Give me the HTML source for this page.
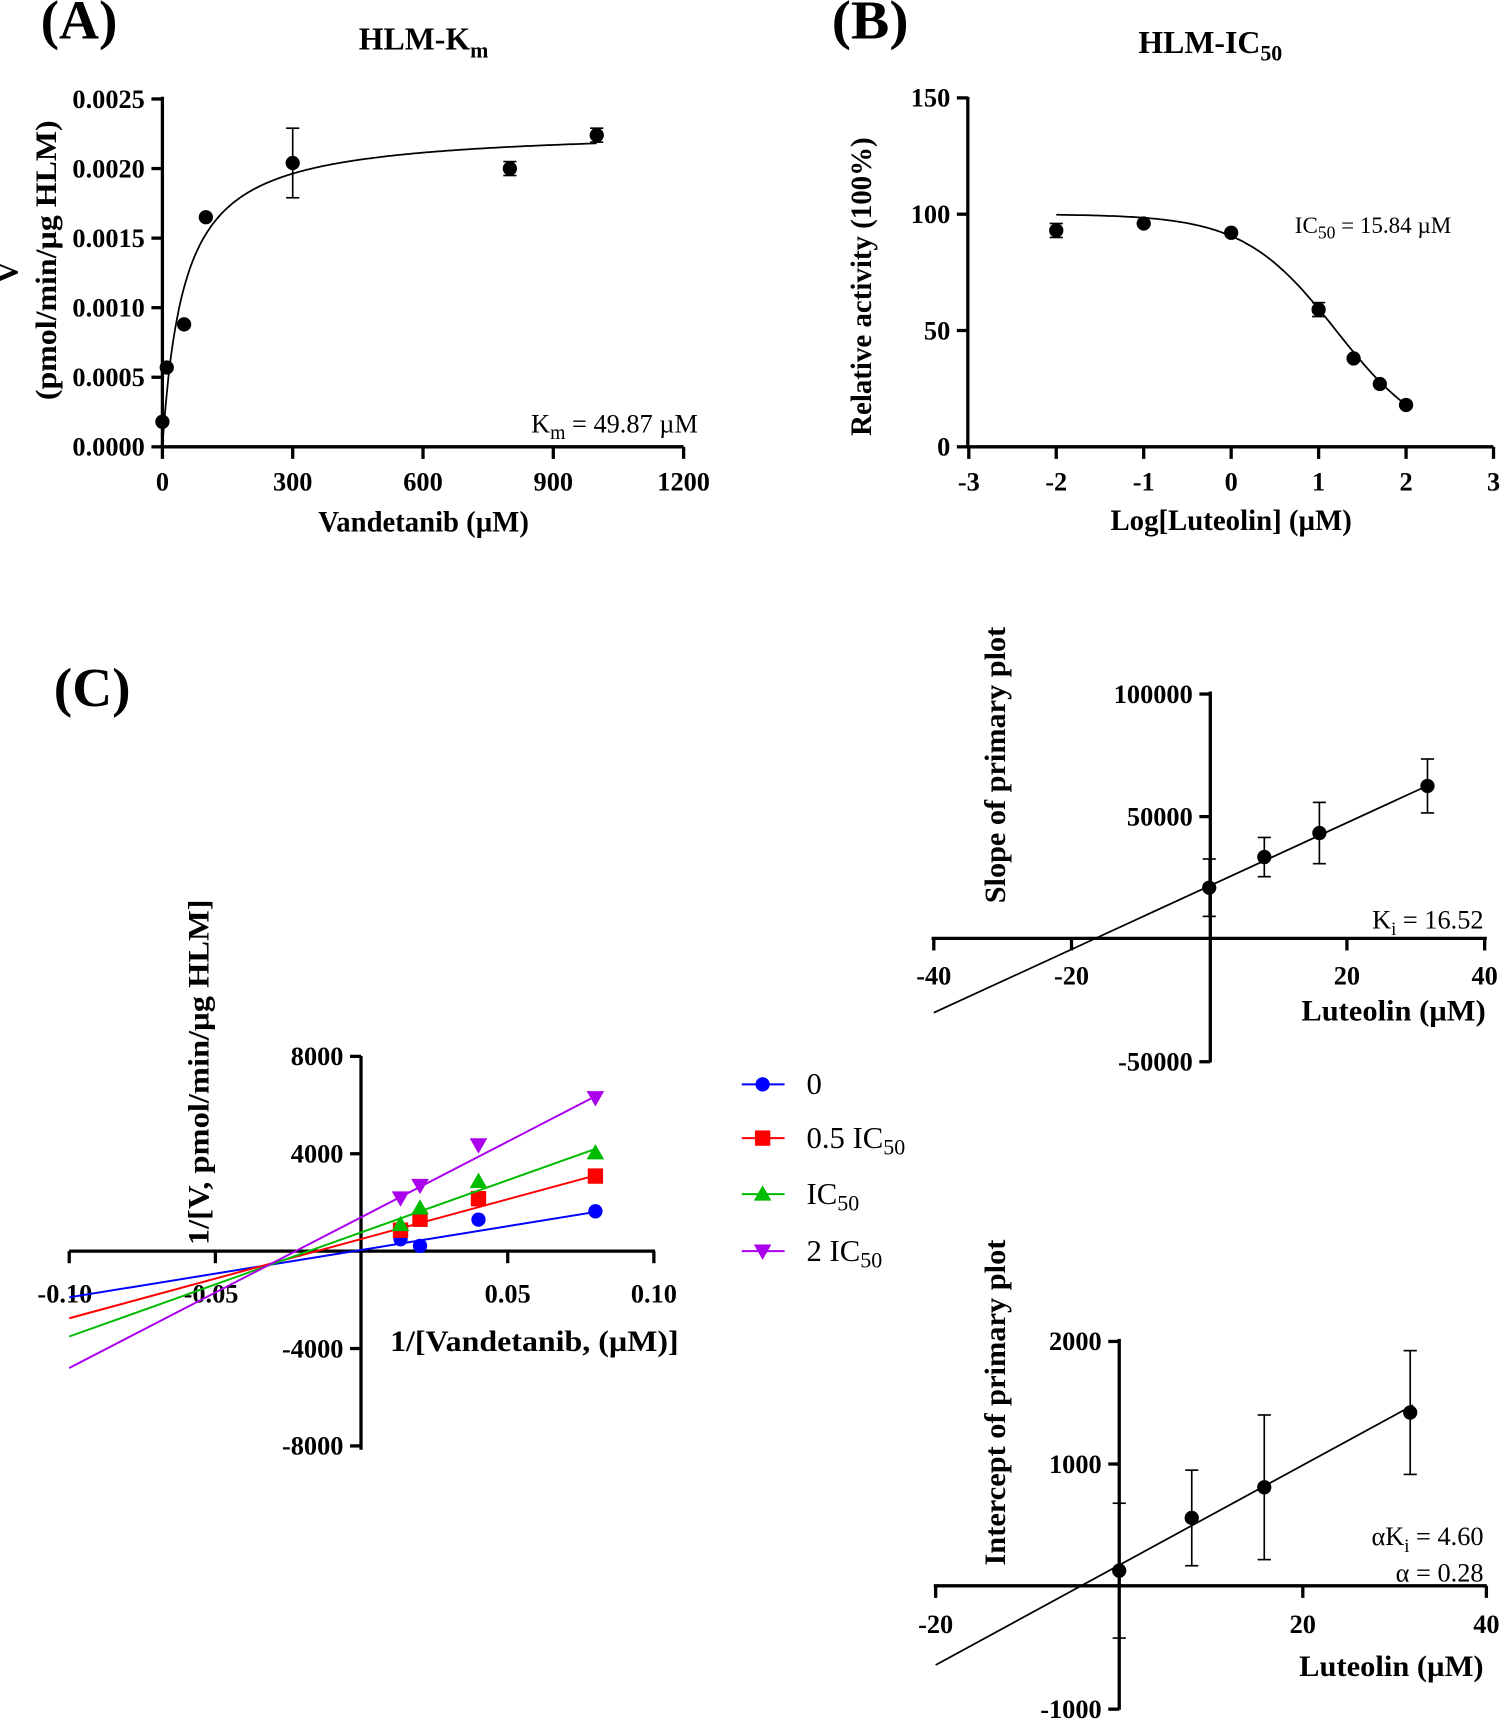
<!DOCTYPE html>
<html><head><meta charset="utf-8"><style>
html,body{margin:0;padding:0;background:#fff}
svg{display:block}
text{font-family:"Liberation Serif",serif;fill:#000}
.b{font-weight:bold}
</style></head><body>
<svg id="fig" width="1500" height="1721" viewBox="0 0 1367 1568" xmlns="http://www.w3.org/2000/svg">
<g id="g"></g>
</svg>
<script>
// Panel A data
const aX=[0,10,50,100,300,800,1000];
const aY=[0.00018,0.00057,0.00088,0.00165,0.00204,0.0020,0.00224];
const aErr=[0,0,0,0,0.00025,0.00005,0.00005];
const aVmax=0.00229, aKm=49.87;
const aXTicks=[0,300,600,900,1200];
const aYTicks=["0.0000","0.0005","0.0010","0.0015","0.0020","0.0025"];
// Panel B data
const bX=[-2,-1,0,1,1.4,1.7,2];
const bY=[93,96,92,59,38,27,18];
const bErr=[3,1,1,3,1,1,1];
const bLogIC50=1.2, bHill=0.82;
const bXTicks=[-3,-2,-1,0,1,2,3];
const bYTicks=[0,50,100,150];
// Panel C data
const cX=[1/75,0.02,0.04,0.08];
const cNames=["0","0.5 IC50","IC50","2 IC50"];
const cBlue=[491,218,1296,1637];
const cRed=[860,1310,2155,3083];
const cGreen=[1091,1773,2865,4037];
const cPurple=[2183,2700,4365,6302];
const cLineStart=[-1897,-2757,-3506,-4800];
const cLineEnd=[1610,3110,4200,6360];
const cXTicks=["-0.10","-0.05","0.05","0.10"];
const cYTicks=[8000,4000,-4000,-8000];
// Panel D (slope replot)
const dX=[0,8,16,31.7];
const dY=[21000,33500,43300,62500];
const dErr=[11700,8000,12500,11000];
const dLine=[[-40,-30000],[32,63000]];
const dXTicks=[-40,-20,20,40];
const dYTicks=[100000,50000,-50000];
// Panel E (intercept replot)
const eX=[0,7.9,15.8,31.7];
const eY=[130,560,810,1420];
const eErr=[550,390,590,505];
const eLine=[[-20,-640],[32,1480]];
const eXTicks=[-20,20,40];
const eYTicks=[2000,1000,-1000];

const NS="http://www.w3.org/2000/svg";
const G=document.getElementById('g');
const TS=24;
function mk(tag,attrs,parent){const e=document.createElementNS(NS,tag);for(const k in attrs)e.setAttribute(k,attrs[k]);(parent||G).appendChild(e);return e;}
function grp(name){const e=mk('g',{});


return e;}
function txt(p,x,y,s,size,cls,anchor,rot,len){const t=mk('text',{x:x,y:y,'font-size':size,'text-anchor':anchor||'middle'},p);if(cls)t.setAttribute('class',cls);if(rot)t.setAttribute('transform','rotate(-90 '+x+' '+y+')');if(len){t.setAttribute('textLength',len);t.setAttribute('lengthAdjust','spacingAndGlyphs');}t.innerHTML=s;return t;}
function line(p,x1,y1,x2,y2,col,w){return mk('line',{x1:x1,y1:y1,x2:x2,y2:y2,stroke:col||'#000','stroke-width':w||1.6},p);}
function errbar(p,x,y1,y2){line(p,x,y1,x,y2,'#000',1.5);line(p,x-6,y1,x+6,y1,'#000',1.5);line(p,x-6,y2,x+6,y2,'#000',1.5);}

// ---------- Panel A ----------
(function(){
const g=grp('panel-a-km-chart');
const sx=v=>148+v/1200*475, sy=v=>407-v/0.0025*317;
txt(g,72,35,'(A)',50,'b','middle',false,70);
txt(g,386,45,'HLM-K<tspan font-size="20" dy="7">m</tspan>',29,'b');
const ax=grp('panel-a-axes');g.appendChild(ax);
line(ax,148,88,148,407,'#000',3);line(ax,146,407,623,407,'#000',3);
aXTicks.forEach((t,i)=>{line(ax,sx(t),407,sx(t),418,'#000',3);txt(ax,sx(t),447,t,TS,'b');});
aYTicks.forEach(t=>{const y=sy(+t);line(ax,138,y,148,y,'#000',3);txt(ax,132,y+8,t,TS,'b','end');});
txt(g,386,484,'Vandetanib (µM)',27,'b','middle',false,192);
txt(g,16,248,'V',28,'b','middle',true);
txt(g,51,237,'(pmol/min/µg HLM)',27,'b','middle',true,255);
let d='';for(let v=0;v<=1000;v+=2){const y=aVmax*v/(aKm+v);d+=(v?'L':'M')+sx(v).toFixed(1)+' '+sy(y).toFixed(1);}
const c=mk('path',{d:d,fill:'none',stroke:'#000','stroke-width':1.6},g);


aX.forEach((x,i)=>{if(aErr[i])errbar(g,sx(x),sy(aY[i]+aErr[i]),sy(aY[i]-aErr[i]));
const p=mk('circle',{cx:sx(x),cy:sy(aY[i]),r:6.5,fill:'#000'},g);

});
txt(g,636,394,'K<tspan font-size="18" dy="6">m</tspan><tspan dy="-6"> = 49.87 µM</tspan>',24,'','end');
})();

// ---------- Panel B ----------
(function(){
const g=grp('panel-b-ic50-chart');
const sx=v=>1122+v*79.7, sy=v=>407-v/150*318;
txt(g,793,35,'(B)',50,'b','middle',false,70);
txt(g,1103,48,'HLM-IC<tspan font-size="20" dy="7">50</tspan>',29,'b');
const ax=grp('panel-b-axes');g.appendChild(ax);
line(ax,882,88,882,407,'#000',3);line(ax,880,407,1361,407,'#000',3);
bXTicks.forEach(t=>{line(ax,sx(t),407,sx(t),418,'#000',3);txt(ax,sx(t),447,t,TS,'b');});
bYTicks.forEach(t=>{const y=sy(t);line(ax,872,y,882,y,'#000',3);txt(ax,866,y+8,t,TS,'b','end');});
txt(g,1122,483,'Log[Luteolin] (µM)',27,'b','middle',false,220);
txt(g,794,261,'Relative activity (100%)',27,'b','middle',true,272);
let d='';for(let v=-2;v<=2.001;v+=0.02){const y=100/(1+Math.pow(10,bHill*(v-bLogIC50)));d+=(v>-2?'L':'M')+sx(v).toFixed(1)+' '+sy(y).toFixed(1);}
const c=mk('path',{d:d,fill:'none',stroke:'#000','stroke-width':1.6},g);


bX.forEach((x,i)=>{if(bErr[i]>1)errbar(g,sx(x),sy(bY[i]+bErr[i]),sy(bY[i]-bErr[i]));
const p=mk('circle',{cx:sx(x),cy:sy(bY[i]),r:6.5,fill:'#000'},g);

});
txt(g,1180,212,'IC<tspan font-size="16" dy="5">50</tspan><tspan dy="-5"> = 15.84 µM</tspan>',21,'','start');
})();

// ---------- Panel C ----------
(function(){
const g=grp('panel-c-lineweaver-burk-chart');
const sx=v=>329.5+v/0.05*133.2, sy=v=>1140-v/4000*88.75;
txt(g,84,643,'(C)',50,'b','middle',false,70);
const ax=grp('panel-c-axes');g.appendChild(ax);
line(ax,329,962,329,1321,'#000',3);line(ax,63,1140,597,1140,'#000',3);
[-0.1,-0.05,0.05,0.1].forEach((t,i)=>{line(ax,sx(t),1140,sx(t),1151,'#000',3);txt(ax,sx(t)+(i<2?-4:0),1187,cXTicks[i],TS,'b');});
cYTicks.forEach(t=>{const y=sy(t);line(ax,319,y,329,y,'#000',3);txt(ax,313,y+8,t,TS,'b','end');});
txt(g,487,1231,'1/[Vandetanib, (µM)]',27,'b','middle',false,263);
txt(g,190,977,'1/[V, pmol/min/µg HLM]',27,'b','middle',true,315);
const cols=['#0000ff','#ff0000','#00bb00','#aa00ee'];
const sets=[cBlue,cRed,cGreen,cPurple];
const names=['series-0','series-0.5-ic50','series-ic50','series-2-ic50'];
sets.forEach((s,k)=>{
const l=line(g,sx(-0.1),sy(cLineStart[k]),sx(0.08),sy(cLineEnd[k]),cols[k],1.8);


s.forEach((v,i)=>{marker(g,k,sx(cX[i]),sy(v),cols[k]);});
});
function marker(p,k,x,y,c){let m;
if(k==0)m=mk('circle',{cx:x,cy:y,r:6.5,fill:c},p);
else if(k==1)m=mk('rect',{x:x-7,y:y-7,width:14,height:14,fill:c},p);
else if(k==2)m=mk('polygon',{points:`${x},${y-8} ${x-8},${y+6} ${x+8},${y+6}`,fill:c},p);
else m=mk('polygon',{points:`${x},${y+8} ${x-8},${y-6} ${x+8},${y-6}`,fill:c},p);

return m;}
const lg=grp('panel-c-legend');g.appendChild(lg);
const labels=['0','0.5 IC<tspan font-size="20" dy="6">50</tspan>','IC<tspan font-size="20" dy="6">50</tspan>','2 IC<tspan font-size="20" dy="6">50</tspan>'];
[988,1037,1088,1140].forEach((y,k)=>{
const e=grp('legend-entry');lg.appendChild(e);
line(e,676,y,715,y,cols[k],1.8);marker(e,k,695,y,cols[k]);
txt(e,735,y+9,labels[k],28,'','start');});
})();

// ---------- Panel D ----------
(function(){
const g=grp('slope-replot-chart');
const sx=v=>1102+v/20*125.5, sy=v=>855.7-v/50000*111.7;
const ax=grp('slope-replot-axes');g.appendChild(ax);
line(ax,1103,630,1103,968,'#000',3);line(ax,849,855,1355,855,'#000',3);
dXTicks.forEach(t=>{line(ax,sx(t),855,sx(t),866,'#000',3);txt(ax,sx(t),897,t,TS,'b');});
dYTicks.forEach(t=>{const y=sy(t);line(ax,1093,y,1103,y,'#000',3);txt(ax,1087,y+8,t,TS,'b','end');});
txt(g,1270,930,'Luteolin (µM)',27,'b','middle',false,168);
txt(g,916,697,'Slope of primary plot',27,'b','middle',true,252);
const l=line(g,sx(dLine[0][0]),sy(dLine[0][1]),sx(dLine[1][0]),sy(dLine[1][1]),'#000',1.6);


dX.forEach((x,i)=>{errbar(g,sx(x),sy(dY[i]+dErr[i]),sy(dY[i]-dErr[i]));
const p=mk('circle',{cx:sx(x),cy:sy(dY[i]),r:6.5,fill:'#000'},g);

});
txt(g,1352,846,'K<tspan font-size="17" dy="6">i</tspan><tspan dy="-6"> = 16.52</tspan>',24,'','end');
})();

// ---------- Panel E ----------
(function(){
const g=grp('intercept-replot-chart');
const sx=v=>1020+v/20*167.3, sy=v=>1445.7-v/1000*111.7;
const ax=grp('intercept-replot-axes');g.appendChild(ax);
line(ax,1020,1220,1020,1558,'#000',3);line(ax,851,1445,1355,1445,'#000',3);
eXTicks.forEach(t=>{line(ax,sx(t),1445,sx(t),1456,'#000',3);txt(ax,sx(t),1488,t,TS,'b');});
eYTicks.forEach(t=>{const y=sy(t);line(ax,1010,y,1020,y,'#000',3);txt(ax,1004,y+8,t,TS,'b','end');});
txt(g,1268,1527,'Luteolin (µM)',27,'b','middle',false,168);
txt(g,916,1278,'Intercept of primary plot',27,'b','middle',true,297);
const l=line(g,sx(eLine[0][0]),sy(eLine[0][1]),sx(eLine[1][0]),sy(eLine[1][1]),'#000',1.6);


eX.forEach((x,i)=>{errbar(g,sx(x),sy(eY[i]+eErr[i]),sy(eY[i]-eErr[i]));
const p=mk('circle',{cx:sx(x),cy:sy(eY[i]),r:6.5,fill:'#000'},g);

});
txt(g,1352,1408,'αK<tspan font-size="17" dy="6">i</tspan><tspan dy="-6"> = 4.60</tspan>',24,'','end');
txt(g,1352,1441,'α = 0.28',24,'','end');
})();
</script>
</body></html>
